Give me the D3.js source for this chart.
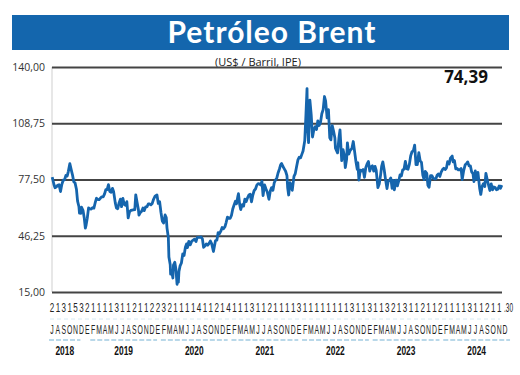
<!DOCTYPE html>
<html>
<head>
<meta charset="utf-8">
<script src="https://cdn.jsdelivr.net/npm/d3@7"></script>
<style>
  body { margin: 0; background: #fff; }
  svg { display: block; }
</style>
</head>
<body>
<div class="display__svg"></div>
<script>
//chart texts
const title = "Petróleo Brent";
const subtitle = "(US$ / Barril, IPE)";
const lastValue = "74,39";

//y axis ticks
const yTicks = [15, 46.25, 77.5, 108.75, 140];

//first day label of every month (jul 2018 - dec 2024)
const dayLabels = [
  "2","1","3","1","5","3",
  "2","1","1","1","1","3","1","1","2","1","1","2",
  "2","3","2","1","1","1","1","4","1","1","2","1",
  "4","1","1","1","3","1","1","2","1","1","1","1",
  "3","1","1","1","1","1","1","1","1","3","1","1",
  "3","1","1","3","2","1","3","1","1","2","1","1",
  "2","1","1","1","1","3","1","1","2","1","1",".30"
];

//month letters
const firstMonths = ["J","A","S","O","N","D"];
const monthLetters = ["E","F","M","A","M","J","J","A","S","O","N","D"];
const years = ["2018","2019","2020","2021","2022","2023","2024"];

//prices, [month-day, US$]
const p2018 = [["07-02",78.8],["07-06",77.1],["07-12",74.4],["07-17",72.9],["07-24",73.4],["07-31",74.3],
  ["08-07",74.6],["08-15",70.8],["08-22",74.8],["08-29",77.1],["09-05",77.3],["09-12",79.7],["09-19",79.4],
  ["09-25",81.9],["10-03",86.3],["10-10",83.1],["10-17",80.1],["10-24",76.2],["10-31",75.5],["11-07",72.1],
  ["11-13",65.5],["11-20",62.5],["11-23",58.8],["11-30",58.7],["12-04",62.1],["12-12",60.2],["12-18",56.3],
  ["12-24",50.5],["12-28",52.2]];
const p2019 = [["01-03",55.9],["01-10",61.7],["01-17",61.2],["01-24",61.1],["01-31",61.9],["02-07",61.6],
  ["02-14",64.6],["02-21",67.1],["02-28",66.3],["03-07",66.3],["03-14",67.2],["03-21",67.9],["03-28",67.8],
  ["04-04",69.4],["04-11",71.8],["04-18",71.9],["04-25",74.6],["05-02",70.8],["05-09",70.4],["05-16",72.6],
  ["05-22",70.9],["05-31",64.5],["06-06",61.7],["06-13",61.3],["06-20",64.5],["06-27",66.6],["07-03",62.4],
  ["07-10",67.0],["07-17",63.7],["07-24",63.2],["07-31",65.2],["08-07",56.2],["08-14",59.5],["08-21",60.3],
  ["08-28",60.5],["09-04",60.7],["09-11",60.8],["09-16",69.0],["09-23",64.8],["09-30",60.8],["10-03",57.7],
  ["10-10",59.1],["10-17",59.9],["10-24",61.7],["10-31",60.2],["11-07",62.3],["11-14",62.3],["11-21",63.9],
  ["11-28",63.9],["12-05",63.4],["12-12",64.2],["12-19",66.5],["12-27",68.2]];
const p2020 = [["01-06",68.9],["01-13",64.2],["01-20",65.2],["01-27",59.3],["02-03",54.5],["02-10",53.3],
  ["02-18",57.8],["02-24",56.3],["02-28",50.5],["03-06",45.3],["03-09",34.4],["03-16",30.1],["03-18",24.9],
  ["03-23",27.0],["03-30",22.8],["04-02",29.9],["04-09",31.5],["04-15",27.7],["04-21",19.3],["04-23",21.3],
  ["04-28",20.5],["05-01",26.4],["05-07",29.5],["05-14",31.1],["05-21",36.1],["05-28",35.3],["06-04",39.9],
  ["06-10",41.7],["06-15",39.7],["06-22",43.1],["06-30",41.2],["07-08",43.3],["07-15",43.8],["07-22",44.3],
  ["07-30",43.0],["08-05",45.2],["08-12",45.4],["08-19",45.4],["08-26",45.6],["09-02",44.4],["09-08",39.8],
  ["09-15",40.5],["09-22",41.7],["09-30",41.0],["10-07",42.0],["10-14",43.3],["10-21",41.7],["10-30",37.5],
  ["11-05",40.9],["11-10",43.6],["11-17",43.8],["11-24",48.0],["12-01",47.4],["12-08",48.8],["12-15",50.8],
  ["12-22",50.1],["12-30",51.3]];
const p2021 = [["01-05",53.6],["01-12",56.6],["01-19",55.9],["01-26",55.9],["02-02",57.5],["02-09",61.1],
  ["02-16",63.4],["02-23",65.4],["03-01",64.0],["03-08",68.2],["03-11",69.6],["03-18",63.3],["03-23",60.8],
  ["03-31",63.5],["04-07",62.7],["04-14",66.6],["04-21",65.3],["04-28",67.3],["05-05",68.9],["05-12",69.3],
  ["05-19",65.1],["05-26",68.9],["06-02",71.4],["06-09",72.2],["06-16",74.4],["06-23",75.2],["06-30",75.1],
  ["07-06",74.5],["07-13",76.5],["07-19",68.6],["07-27",74.5],["08-03",72.4],["08-10",70.6],["08-19",66.5],
  ["08-26",71.1],["09-02",73.0],["09-09",71.5],["09-16",75.7],["09-23",77.3],["09-30",78.5],["10-06",81.1],
  ["10-13",83.2],["10-20",85.8],["10-25",86.4],["11-01",84.7],["11-08",83.4],["11-15",82.1],["11-22",79.7],
  ["11-26",72.7],["12-01",68.9],["12-08",75.8],["12-15",73.9],["12-20",71.5],["12-29",79.2]];
const p2022 = [["01-05",80.8],["01-12",84.7],["01-19",88.4],["01-26",89.9],["02-02",89.5],["02-09",91.6],
  ["02-15",93.3],["02-24",99.1],["03-02",112.9],["03-08",128.0],["03-10",109.3],["03-16",98.0],["03-23",121.6],
  ["03-30",113.5],["04-06",101.1],["04-12",104.6],["04-20",106.8],["04-27",105.3],["05-04",110.1],["05-11",107.5],
  ["05-18",109.1],["05-25",114.0],["06-01",116.3],["06-08",123.6],["06-14",121.2],["06-22",111.7],["06-29",116.3],
  ["07-06",100.7],["07-12",99.5],["07-19",107.4],["07-26",104.4],["08-02",100.5],["08-05",94.9],["08-16",92.3],
  ["08-24",101.2],["08-29",105.1],["09-07",88.0],["09-14",94.1],["09-21",90.8],["09-26",84.1],["10-03",88.9],
  ["10-07",97.9],["10-14",91.6],["10-21",93.5],["10-31",94.8],["11-07",98.6],["11-14",93.1],["11-21",87.5],
  ["11-28",83.2],["12-01",86.9],["12-07",77.2],["12-14",82.7],["12-21",82.2],["12-29",83.0]];
const p2023 = [["01-05",78.7],["01-12",84.0],["01-19",86.2],["01-26",87.5],["02-02",82.2],["02-09",84.5],
  ["02-16",85.1],["02-23",82.2],["03-02",84.8],["03-08",82.7],["03-17",73.0],["03-24",75.0],["03-31",79.8],
  ["04-06",85.0],["04-12",87.3],["04-19",83.1],["04-26",77.7],["05-04",72.5],["05-10",76.4],["05-17",77.0],
  ["05-24",78.4],["05-31",72.6],["06-07",77.0],["06-12",71.8],["06-21",77.1],["06-28",74.0],["07-05",76.7],
  ["07-12",80.1],["07-19",79.5],["07-26",82.9],["08-02",83.2],["08-09",87.6],["08-16",83.5],["08-23",83.2],
  ["08-30",85.9],["09-06",90.6],["09-13",92.9],["09-20",93.5],["09-27",96.6],["10-04",85.8],["10-11",85.8],
  ["10-19",92.4],["10-26",87.9],["11-02",87.0],["11-09",80.0],["11-16",77.4],["11-22",82.0],["11-30",80.9],
  ["12-06",74.3],["12-12",73.2],["12-20",79.7],["12-27",79.7]];
const p2024 = [["01-03",78.3],["01-10",77.8],["01-17",77.9],["01-24",80.0],["01-31",80.6],["02-07",79.2],
  ["02-14",81.6],["02-21",83.0],["02-28",83.7],["03-06",83.0],["03-13",84.0],["03-19",87.4],["03-27",86.1],
  ["04-03",89.4],["04-12",90.5],["04-17",87.3],["04-24",88.0],["05-01",83.4],["05-08",83.6],["05-15",82.8],
  ["05-22",82.9],["05-29",83.6],["06-04",77.5],["06-12",82.6],["06-20",85.7],["06-27",86.4],["07-03",87.3],
  ["07-10",85.1],["07-17",85.1],["07-24",81.7],["07-31",80.7],["08-05",76.3],["08-12",82.3],["08-19",77.7],
  ["08-26",81.4],["09-04",72.7],["09-10",69.2],["09-17",73.7],["09-24",75.2],["10-01",73.6],["10-07",80.9],
  ["10-14",77.5],["10-21",74.3],["10-28",71.4],["11-04",75.1],["11-11",71.8],["11-18",73.3],["11-25",73.0],
  ["12-02",71.8],["12-09",72.1],["12-16",73.9],["12-23",72.6],["12-30",74.39]];

const pricesByYear = [p2018, p2019, p2020, p2021, p2022, p2023, p2024];

//join every year into one dated series
const parseDate = d3.timeParse("%Y-%m-%d");
const data = [];
pricesByYear.forEach((rows, i) => {
  rows.forEach(r => data.push({ date: parseDate(years[i] + "-" + r[0]), value: r[1] }));
});

//month letter per column
const letters = firstMonths.concat(...d3.range(6).map(() => monthLetters));

drawchart();

function drawchart() {
  const width = 520;
  const height = 375;
  const margin = { top: 67, right: 18, bottom: 83, left: 52 };
  const innerWidth = width - margin.left - margin.right;
  const innerHeight = height - margin.top - margin.bottom;

  const svg = d3
    .select(".display__svg")
    .append("svg")
    .attr("width", width)
    .attr("height", height);

  //title band
  svg
    .append("rect")
    .attr("x", 12)
    .attr("y", 15)
    .attr("width", 497)
    .attr("height", 35)
    .attr("fill", "#1466ad");

  svg
    .append("text")
    .attr("x", 272)
    .attr("y", 43)
    .attr("text-anchor", "middle")
    .attr("fill", "#fff")
    .style("font-family", "Lato, 'Open Sans', sans-serif")
    .style("font-weight", "bold")
    .style("font-size", "30px")
    .style("letter-spacing", "1px")
    .text(title);

  svg
    .append("text")
    .attr("x", 258)
    .attr("y", 66)
    .attr("text-anchor", "middle")
    .attr("fill", "#222")
    .style("font-family", "'Open Sans', sans-serif")
    .style("font-size", "11px")
    .text(subtitle);

  //scales
  const xScale = d3
    .scaleTime()
    .domain([new Date(2018, 6, 1), new Date(2024, 11, 31)])
    .range([0, innerWidth]);

  const yScale = d3
    .scaleLinear()
    .domain([15, 140])
    .range([innerHeight, 0]);

  const g = svg
    .append("g")
    .attr("transform", `translate(${margin.left},${margin.top})`);

  //light y axis line
  g.append("line")
    .attr("x1", 0)
    .attr("x2", 0)
    .attr("y1", 0)
    .attr("y2", innerHeight)
    .attr("stroke", "#cfcfcf")
    .attr("stroke-width", 1);

  //gridlines + y labels with axisLeft
  const yaxis = d3
    .axisLeft(yScale)
    .tickValues(yTicks)
    .tickSize(-innerWidth)
    .tickPadding(8)
    .tickFormat(d => d3.format(".2f")(d).replace(".", ","));

  const yaxisgroup = g.append("g").attr("id", "y-axis").call(yaxis);
  yaxisgroup.select(".domain").remove();
  yaxisgroup
    .selectAll("line")
    .attr("stroke", "#444")
    .attr("stroke-width", 1.8);
  yaxisgroup
    .selectAll("text")
    .attr("fill", "#333")
    .attr("x", -7)
    .style("font-family", "'Open Sans', sans-serif")
    .style("font-size", "10.5px");

  //price line
  const line = d3
    .line()
    .x(d => xScale(d.date))
    .y(d => yScale(d.value));

  g.append("path")
    .datum(data)
    .attr("d", line)
    .attr("fill", "none")
    .attr("stroke", "#1565ad")
    .attr("stroke-width", 2.8)
    .attr("stroke-linejoin", "round");

  //last value
  svg
    .append("text")
    .attr("x", 466)
    .attr("y", 83)
    .attr("text-anchor", "middle")
    .attr("fill", "#111")
    .style("font-family", "'Open Sans', sans-serif")
    .style("font-weight", "bold")
    .style("font-size", "17px")
    .text(lastValue);

  //month columns below the chart
  const colScale = d3.scaleLinear().domain([0, 77]).range([52, 505]);
  const condensed = "'Liberation Sans Narrow', 'Liberation Sans', sans-serif";
  const lastCol = dayLabels.length - 1;

  svg
    .selectAll(".day-label")
    .data(dayLabels)
    .enter()
    .append("text")
    .attr("class", "day-label")
    .attr("transform", (d, i) =>
      i === lastCol
        ? `translate(${colScale(i) - 1},312) scale(0.5,1)`
        : `translate(${colScale(i)},312) scale(0.62,1)`
    )
    .attr("text-anchor", (d, i) => (i === lastCol ? "start" : "middle"))
    .attr("fill", "#222")
    .style("font-family", condensed)
    .style("font-size", "13px")
    .text(d => d);

  svg
    .selectAll(".month-label")
    .data(letters)
    .enter()
    .append("text")
    .attr("class", "month-label")
    .attr("transform", (d, i) => `translate(${colScale(i)},334) scale(0.55,1)`)
    .attr("text-anchor", "middle")
    .attr("fill", "#222")
    .style("font-family", condensed)
    .style("font-size", "12.5px")
    .text(d => d);

  //faint dashed separator
  svg
    .append("line")
    .attr("x1", 50)
    .attr("x2", 500)
    .attr("y1", 319)
    .attr("y2", 319)
    .attr("stroke", "#d6eaf3")
    .attr("stroke-dasharray", "4,3");

  //year groups
  const yearInfo = years.map((y, i) => {
    const first = i === 0 ? 0 : 6 + (i - 1) * 12;
    const n = i === 0 ? 6 : 12;
    const mid = colScale(first + (n - 1) / 2) + (n === 12 ? 4 : -2);
    return { year: y, mid: mid, half: (n * 5.9) / 2 - 2 };
  });

  svg
    .selectAll(".year-line")
    .data(yearInfo)
    .enter()
    .append("line")
    .attr("class", "year-line")
    .attr("x1", d => d.mid - d.half)
    .attr("x2", d => d.mid + d.half)
    .attr("y1", 340)
    .attr("y2", 340)
    .attr("stroke", "#a3cce2")
    .attr("stroke-width", 1.5)
    .attr("stroke-dasharray", "5,2");

  svg
    .selectAll(".year-label")
    .data(yearInfo)
    .enter()
    .append("text")
    .attr("class", "year-label")
    .attr("transform", d => `translate(${d.mid},355) scale(0.7,1)`)
    .attr("text-anchor", "middle")
    .attr("fill", "#111")
    .style("font-family", condensed)
    .style("font-weight", "bold")
    .style("font-size", "12px")
    .text(d => d.year);
}
</script>
</body>
</html>
